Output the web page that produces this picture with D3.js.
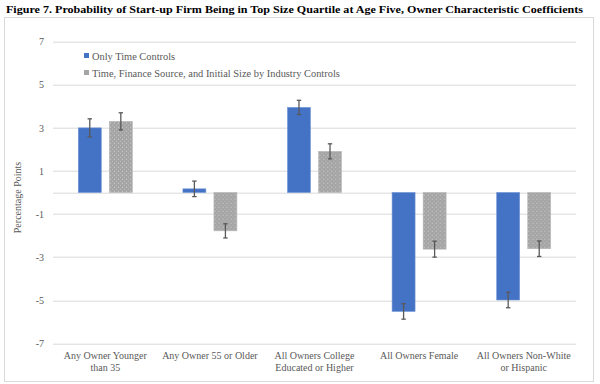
<!DOCTYPE html>
<html>
<head>
<meta charset="utf-8">
<script src="https://cdn.jsdelivr.net/npm/d3@7"></script>
<style>
    body { margin: 0; background: #fff; }
    svg, svg text { font-family: 'Liberation Serif', 'Times New Roman', Times, serif !important; }
</style>
</head>
<body>
<svg id="chart" width="600" height="384"></svg>
<script>
// Data
const categories = [
    ['Any Owner Younger', 'than 35'],
    ['Any Owner 55 or Older'],
    ['All Owners College', 'Educated or Higher'],
    ['All Owners Female'],
    ['All Owners Non-White', 'or Hispanic']
];
const seriesNames = ['Only Time Controls', 'Time, Finance Source, and Initial Size by Industry Controls'];
const timeOnly = [3.0, 0.17, 3.95, -5.52, -4.99];
const timeOnlyErr = [0.42, 0.36, 0.33, 0.36, 0.36];
const fullControls = [3.30, -1.78, 1.91, -2.63, -2.61];
const fullControlsErr = [0.40, 0.33, 0.35, 0.37, 0.36];
const yTicks = [-7, -5, -3, -1, 1, 3, 5, 7];

const series = [
    { name: seriesNames[0], values: timeOnly, errs: timeOnlyErr, fill: '#4472c4' },
    { name: seriesNames[1], values: fullControls, errs: fullControlsErr, fill: 'url(#dots)' }
];

/**
 * Layout.
 */
const margin = { top: 41.7, right: 24, bottom: 40.7, left: 53 };
const svg = d3.select('#chart');
const W = 600, H = 384;
const width = W - margin.left - margin.right,
    height = H - margin.top - margin.bottom;
const serif = "'Liberation Serif', 'Times New Roman', Times, serif";

// Pattern for the grey dotted bars
const defs = svg.append('defs');
const pat = defs.append('pattern')
    .attr('id', 'dots')
    .attr('patternUnits', 'userSpaceOnUse')
    .attr('width', 4).attr('height', 4);
pat.append('rect').attr('width', 4).attr('height', 4).attr('fill', '#a5a5a5');
pat.append('rect').attr('x', 1).attr('y', 1).attr('width', 1).attr('height', 1).attr('fill', '#d0d0d0');
pat.append('rect').attr('x', 3).attr('y', 3).attr('width', 1).attr('height', 1).attr('fill', '#bdbdbd');

// Outer frame
svg.append('rect')
    .attr('x', 4.5).attr('y', 17.5)
    .attr('width', 589).attr('height', 364)
    .attr('fill', 'none').attr('stroke', '#d9d9d9');

// Title
svg.append('text')
    .attr('x', 6).attr('y', 13)
    .style('font-family', serif)
    .attr('font-size', 11.2).attr('font-weight', 'bold').attr('fill', '#000')
    .attr('textLength', 577).attr('lengthAdjust', 'spacingAndGlyphs')
    .text('Figure 7. Probability of Start-up Firm Being in Top Size Quartile at Age Five, Owner Characteristic Coefficients');

const g = svg.append('g').attr('transform', 'translate(' + margin.left + ',' + margin.top + ')');

const x0 = d3.scaleBand().domain(d3.range(categories.length)).range([0, width]).padding(0);
const x1 = d3.scaleBand().domain([0, 1]).range([x0.bandwidth() / 2 - 27, x0.bandwidth() / 2 + 27]).paddingInner(0.26);
const y = d3.scaleLinear().domain([-7, 7]).range([height, 0]);

// Gridlines
g.append('g').selectAll('line').data(yTicks.concat([0]))
    .enter().append('line')
    .attr('x1', 0).attr('x2', width)
    .attr('y1', d => Math.round(y(d)) + 0.5).attr('y2', d => Math.round(y(d)) + 0.5)
    .attr('stroke', '#d9d9d9').attr('stroke-width', 1);

// Y axis
const yAxis = d3.axisLeft(y).tickValues(yTicks).tickFormat(d => String(d)).tickSize(0).tickPadding(9);
g.append('g').call(yAxis)
    .attr('font-family', null)
    .call(s => s.select('.domain').remove())
    .call(s => s.selectAll('text')
        .style('font-family', serif)
        .attr('font-size', 10).attr('fill', '#595959'));

svg.append('text')
    .attr('transform', 'translate(21,' + (margin.top + y(0) + 5) + ') rotate(-90)')
    .attr('text-anchor', 'middle')
    .style('font-family', serif)
    .attr('font-size', 10).attr('fill', '#595959')
    .text('Percentage Points');

// Bars
const groups = g.selectAll('g.cat').data(categories)
    .enter().append('g').attr('class', 'cat')
    .attr('transform', (d, i) => 'translate(' + x0(i) + ',0)');

series.forEach((s, si) => {
    groups.append('rect')
        .attr('x', x1(si))
        .attr('width', x1.bandwidth())
        .attr('y', (d, i) => y(Math.max(0, s.values[i])))
        .attr('height', (d, i) => Math.abs(y(s.values[i]) - y(0)))
        .attr('fill', s.fill)
        .attr('stroke', si === 0 ? '#6f94d6' : '#b8b8b8').attr('stroke-width', 0.6);

    // Error bars
    const cx = x1(si) + x1.bandwidth() / 2;
    const eb = groups.append('g').attr('stroke', '#595959').attr('stroke-width', 1.3);
    eb.append('line')
        .attr('x1', cx).attr('x2', cx)
        .attr('y1', (d, i) => y(s.values[i] + s.errs[i]))
        .attr('y2', (d, i) => y(s.values[i] - s.errs[i]));
    [1, -1].forEach(sign => {
        eb.append('line')
            .attr('x1', cx - 2.2).attr('x2', cx + 2.2)
            .attr('y1', (d, i) => y(s.values[i] + sign * s.errs[i]))
            .attr('y2', (d, i) => y(s.values[i] + sign * s.errs[i]));
    });
});

// Category labels
groups.append('text')
    .attr('text-anchor', 'middle')
    .style('font-family', serif)
    .attr('font-size', 10).attr('fill', '#595959')
    .attr('transform', 'translate(' + x0.bandwidth() / 2 + ',' + (height + 15.5) + ')')
    .selectAll('tspan').data(d => d)
    .enter().append('tspan')
    .attr('x', 0)
    .attr('dy', (d, i) => i === 0 ? 0 : 12)
    .text(d => d);

// Legend
const legend = svg.append('g').attr('transform', 'translate(84,57)');
series.forEach((s, i) => {
    const row = legend.append('g').attr('transform', 'translate(0,' + i * 17 + ')');
    row.append('rect').attr('x', 0).attr('y', -4).attr('width', 5).attr('height', 5)
        .attr('fill', i === 0 ? '#4472c4' : '#a5a5a5');
    row.append('text').attr('x', 8).attr('y', 0).attr('dy', '0.32em')
        .style('font-family', serif)
        .attr('font-size', 10.4).attr('fill', '#595959')
        .text(s.name);
});
</script>
</body>
</html>
